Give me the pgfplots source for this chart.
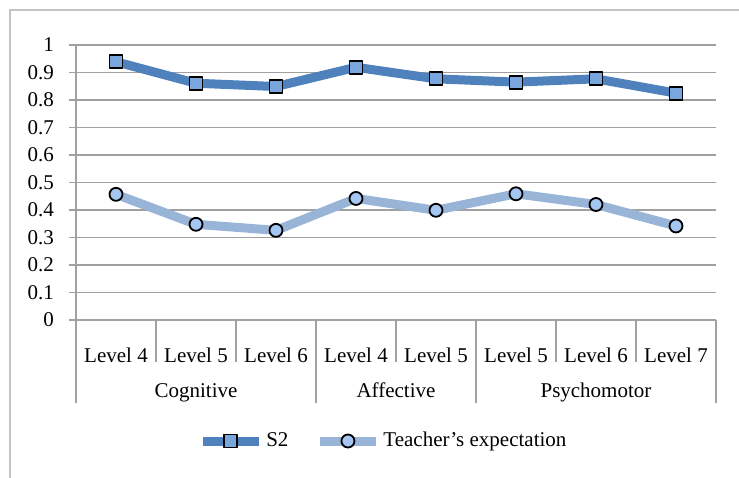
\documentclass[border=0pt]{standalone}
\usepackage{fontspec}
\setmainfont{Liberation Serif}
\usepackage{pgfplots}
\pgfplotsset{compat=1.18}
\definecolor{sblue}{RGB}{79,129,189}
\definecolor{tblue}{RGB}{152,180,214}
\definecolor{mfill}{RGB}{122,166,222}
\definecolor{cfill}{RGB}{165,198,240}
\definecolor{gridgray}{RGB}{160,160,160}
\definecolor{framegray}{RGB}{195,195,195}
\newcommand{\chartfont}{\fontsize{10.5}{12}\selectfont}

\begin{document}
\begin{tikzpicture}[x=1pt,y=1pt]
\useasboundingbox (-38,-78.5) rectangle (331.5,160);
\clip (-38,-78.5) rectangle (331.5,160);
\draw[framegray, line width=0.8pt] (-33,-100) -- (-33,155) -- (400,155);
\begin{axis}[
    at={(0,0)}, anchor=south west, scale only axis,
    width=320pt, height=137.5pt,
    xmin=-0.5, xmax=7.5, ymin=0, ymax=1,
    clip=false,
    axis x line=bottom, axis y line=left,
    axis line style={gridgray, line width=0.7pt, -},
    ymajorgrids, grid style={gridgray, line width=0.7pt},
    ytick={0,0.1,0.2,0.3,0.4,0.5,0.6,0.7,0.8,0.9,1},
    yticklabels={0,0.1,0.2,0.3,0.4,0.5,0.6,0.7,0.8,0.9,1},
    ytick style={gridgray, line width=0.7pt},
    tick align=outside, major tick length=3.5pt,
    yticklabel style={font=\chartfont, xshift=-4pt},
    xtick={0,1,2,3,4,5,6,7},
    xticklabels={Level 4,Level 5,Level 6,Level 4,Level 5,Level 5,Level 6,Level 7},
    xtick style={draw=none},
    xticklabel style={font=\chartfont, anchor=base, yshift=-17.5pt},
    legend style={at={(0.481,-0.44)}, anchor=center, draw=none, fill=none,
        font=\chartfont, legend columns=-1, nodes={inner sep=1.5pt},
        /tikz/every even column/.append style={column sep=12pt}},
    legend image code/.code={\draw[mark repeat=2,mark phase=2]
        plot coordinates {(0pt,0pt)(14pt,0pt)(28pt,0pt)};},
]
\addplot[sblue, line width=4.5pt, line join=round, mark=square*,
    mark size=3.25pt, mark options={fill=mfill, draw=black, line width=0.9pt}]
    coordinates {(0,0.939) (1,0.861) (2,0.849) (3,0.919) (4,0.877) (5,0.865) (6,0.877) (7,0.825)};
\addlegendentry{S2}
\addplot[tblue, line width=4.5pt, line join=round, mark=*,
    mark size=3.25pt, mark options={fill=cfill, draw=black, line width=0.9pt}]
    coordinates {(0,0.457) (1,0.348) (2,0.326) (3,0.442) (4,0.399) (5,0.459) (6,0.420) (7,0.342)};
\addlegendentry{Teacher’s expectation}

% level separators (short) and group separators (long)
\draw[gridgray, line width=0.7pt] (axis cs:0.5,0) -- ++(0pt,-21pt);
\draw[gridgray, line width=0.7pt] (axis cs:1.5,0) -- ++(0pt,-21pt);
\draw[gridgray, line width=0.7pt] (axis cs:3.5,0) -- ++(0pt,-21pt);
\draw[gridgray, line width=0.7pt] (axis cs:5.5,0) -- ++(0pt,-21pt);
\draw[gridgray, line width=0.7pt] (axis cs:6.5,0) -- ++(0pt,-21pt);
\draw[gridgray, line width=0.7pt] (axis cs:-0.5,0) -- ++(0pt,-41.5pt);
\draw[gridgray, line width=0.7pt] (axis cs:2.5,0) -- ++(0pt,-41.5pt);
\draw[gridgray, line width=0.7pt] (axis cs:4.5,0) -- ++(0pt,-41.5pt);
\draw[gridgray, line width=0.7pt] (axis cs:7.5,0) -- ++(0pt,-41.5pt);
\node[font=\chartfont, anchor=base] at (axis cs:1,0) [yshift=-38.5pt] {Cognitive};
\node[font=\chartfont, anchor=base] at (axis cs:3.5,0) [yshift=-38.5pt] {Affective};
\node[font=\chartfont, anchor=base] at (axis cs:6,0) [yshift=-38.5pt] {Psychomotor};
\end{axis}
\end{tikzpicture}
\end{document}
